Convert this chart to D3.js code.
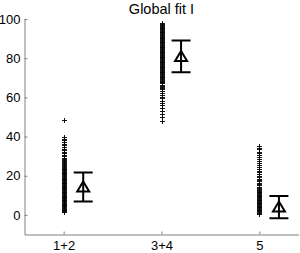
<!DOCTYPE html>
<html><head><meta charset="utf-8">
<script src="https://cdn.jsdelivr.net/npm/d3@7"></script>
<style>body{margin:0;background:#fff}svg{display:block}text{font-family:"Liberation Sans",Arial,sans-serif}</style>
</head><body><svg id="c" width="300" height="253"></svg>
<script>
const categories = ["1+2", "3+4", "5"];
const title = "Global fit I";
const yTicks = [0, 20, 40, 60, 80, 100];
const samples12 = [48.4, 39.6, 38.7, 37.9, 37.0, 36.1, 35.3, 34.2, 33.3, 32.7, 31.9, 31.1, 30.4, 29.8, 29.0, 28.4, 27.9, 27.2, 26.8, 26.1, 25.7, 25.2, 24.8, 24.3, 23.9, 23.4, 23.0, 22.6, 22.1, 21.7, 21.3, 20.9, 20.4, 20.0, 19.6, 19.2, 18.8, 18.3, 17.9, 17.5, 17.1, 16.7, 16.2, 15.8, 15.4, 15.0, 14.6, 14.1, 13.7, 13.3, 12.9, 12.5, 12.1, 11.6, 11.2, 10.8, 10.4, 10.0, 9.6, 9.1, 8.7, 8.3, 7.9, 7.5, 7.1, 6.6, 6.2, 5.8, 5.4, 5.0, 4.6, 4.1, 3.7, 3.3, 2.9, 2.5, 2.1, 1.6, 1.2];
const samples34 = [97.8, 97.2, 96.7, 96.3, 95.8, 95.4, 95.0, 94.6, 94.1, 93.7, 93.3, 92.9, 92.4, 92.0, 91.6, 91.2, 90.7, 90.3, 89.9, 89.5, 89.0, 88.6, 88.2, 87.8, 87.3, 86.9, 86.5, 86.1, 85.6, 85.2, 84.8, 84.4, 83.9, 83.5, 83.1, 82.7, 82.2, 81.8, 81.4, 81.0, 80.5, 80.1, 79.7, 79.3, 78.8, 78.4, 78.0, 77.6, 77.1, 76.7, 76.3, 75.9, 75.4, 75.0, 74.6, 74.2, 73.7, 73.3, 72.9, 72.5, 72.0, 71.6, 71.2, 70.8, 70.3, 69.9, 69.5, 69.1, 68.6, 68.2, 67.8, 67.4, 66.9, 66.3, 65.8, 65.1, 64.5, 63.8, 63.0, 62.1, 61.2, 60.1, 59.2, 58.1, 57.0, 55.7, 54.3, 53.0, 51.4, 49.6, 47.6];
const samples5 = [35.0, 34.1, 33.2, 32.1, 31.2, 30.3, 29.2, 28.1, 27.3, 26.2, 25.3, 24.1, 23.2, 22.4, 21.5, 20.6, 19.8, 19.0, 18.2, 17.5, 16.8, 16.1, 15.4, 14.8, 14.2, 13.6, 13.0, 12.5, 12.0, 11.6, 11.2, 10.8, 10.4, 10.0, 9.6, 9.2, 8.8, 8.4, 8.0, 7.6, 7.2, 6.8, 6.4, 6.0, 5.6, 5.2, 4.8, 4.4, 4.0, 3.6, 3.2, 2.8, 2.4, 2.0, 1.6, 1.2, 0.8, 0.4, 0.1];
const means = [14.3, 80.9, 4.0];
const errors = [7.4, 8.1, 5.7];

const samples = [samples12, samples34, samples5];
const svg = d3.select("#c");
const x = d3.scaleLinear().domain([0.6, 3.4]).range([24.5, 298.5]);
const y = d3.scaleLinear().domain([-10, 100]).range([234.5, 19]);
const axisColor = "#808080";

const gx = svg.append("g").attr("transform", "translate(0,234.5)")
  .call(d3.axisBottom(x).tickValues([1, 2, 3]).tickFormat((d, i) => categories[i]).tickSizeInner(-3).tickSizeOuter(0).tickPadding(6));
const gy = svg.append("g").attr("transform", "translate(24.5,0)")
  .call(d3.axisLeft(y).tickValues(yTicks).tickSizeInner(-3).tickSizeOuter(0).tickPadding(4));
[gx, gy].forEach(g => {
  g.select(".domain").attr("stroke", axisColor);
  g.selectAll(".tick line").attr("stroke", axisColor);
  g.selectAll("text").attr("fill", "#000").attr("font-size", 13).attr("font-family", "Liberation Sans, Arial, sans-serif");
});

svg.append("text").attr("x", (x(0.6) + x(3.4)) / 2).attr("y", 14).attr("text-anchor", "middle")
  .attr("font-size", 14.5).attr("fill", "#000").text(title);

samples.forEach((arr, i) => {
  const g = svg.append("g").attr("stroke", "#000").attr("stroke-width", 0.9).attr("fill", "none").attr("shape-rendering", "crispEdges");
  g.selectAll("path").data(arr).join("path")
    .attr("d", v => { const cx = Math.round(x(i + 1)) + 0.5, cy = y(v); return `M${cx - 2.5},${cy}H${cx + 2.5}M${cx},${cy - 2.5}V${cy + 2.5}`; });
});

means.forEach((m, i) => {
  const cx = x(i + 1.2), hw = 9.5;
  const g = svg.append("g").attr("stroke", "#000").attr("stroke-width", 2).attr("fill", "none");
  g.append("path").attr("d", `M${cx},${y(m + errors[i])}V${y(m - errors[i])}M${cx - hw},${y(m + errors[i])}H${cx + hw}M${cx - hw},${y(m - errors[i])}H${cx + hw}`);
  const cy = y(m);
  g.append("path").attr("d", `M${cx},${cy - 5.5}L${cx + 6},${cy + 4.5}L${cx - 6},${cy + 4.5}Z`);
});
</script></body></html>
